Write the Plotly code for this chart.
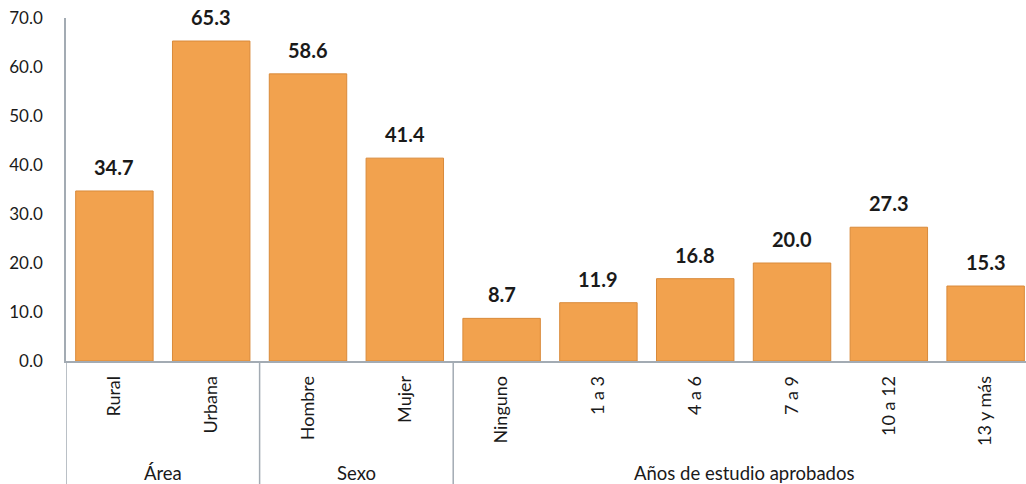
import plotly.graph_objects as go

categories = ["Rural", "Urbana", "Hombre", "Mujer", "Ninguno", "1 a 3", "4 a 6", "7 a 9", "10 a 12", "13 y más"]
values = [34.7, 65.3, 58.6, 41.4, 8.7, 11.9, 16.8, 20.0, 27.3, 15.3]
groups = ["Área", "Sexo", "Años de estudio aprobados"]
group_spans = [(0, 1), (2, 3), (4, 9)]
y_ticks = [0, 10, 20, 30, 40, 50, 60, 70]

FONT = "Lato, Open Sans, sans-serif"
GRAY = "#A3ABB3"
xs = list(range(len(categories)))

fig = go.Figure()
fig.add_trace(go.Bar(
    x=xs, y=values, width=0.8,
    marker=dict(color="#F2A24E", line=dict(color="#D98A3A", width=1)),
    hoverinfo="x+y",
))

annotations = []
for x, v in zip(xs, values):
    annotations.append(dict(x=x, y=v, xref="x", yref="y", text=f"{v:.1f}", showarrow=False,
                            yanchor="bottom", yshift=10,
                            font=dict(family=FONT, size=20, color="#1a1a1a", weight="bold")))
for g, (a, b) in zip(groups, group_spans):
    annotations.append(dict(x=(a + b) / 2, y=-0.326, xref="x", yref="paper", text=g, showarrow=False,
                            yanchor="middle", font=dict(family=FONT, size=18.5, color="#1a1a1a")))

shapes = []
for sx in [-0.5, 1.5, 3.5]:
    shapes.append(dict(type="line", xref="x", yref="paper", x0=sx, x1=sx, y0=0, y1=-0.36,
                       line=dict(color=GRAY, width=1.5)))

fig.update_layout(
    width=1026, height=484,
    margin=dict(l=66, r=0, t=18, b=123, autoexpand=False),
    plot_bgcolor="white", paper_bgcolor="white",
    showlegend=False,
    annotations=annotations, shapes=shapes,
    font=dict(family=FONT, color="#1a1a1a"),
    xaxis=dict(range=[-0.5, 9.417], tickmode="array", tickvals=xs, ticktext=categories,
               tickangle=-90, showline=True, linecolor=GRAY, linewidth=1.5, automargin=False,
               showgrid=False, ticks="", ticklabelstandoff=6,
               tickfont=dict(family=FONT, size=18, color="#1a1a1a")),
    yaxis=dict(range=[0, 70], tickmode="array", tickvals=y_ticks,
               ticktext=[f"{t:.1f}" for t in y_ticks], automargin=False,
               showline=True, linecolor=GRAY, linewidth=1.5, showgrid=False, zeroline=False,
               ticks="", ticklabelstandoff=18,
               tickfont=dict(family=FONT, size=17, color="#1a1a1a")),
    bargap=0.2,
)

fig.write_html("out.html", config={"displayModeBar": False},
               post_script="document.body.style.margin='0';document.body.style.overflow='hidden';")
